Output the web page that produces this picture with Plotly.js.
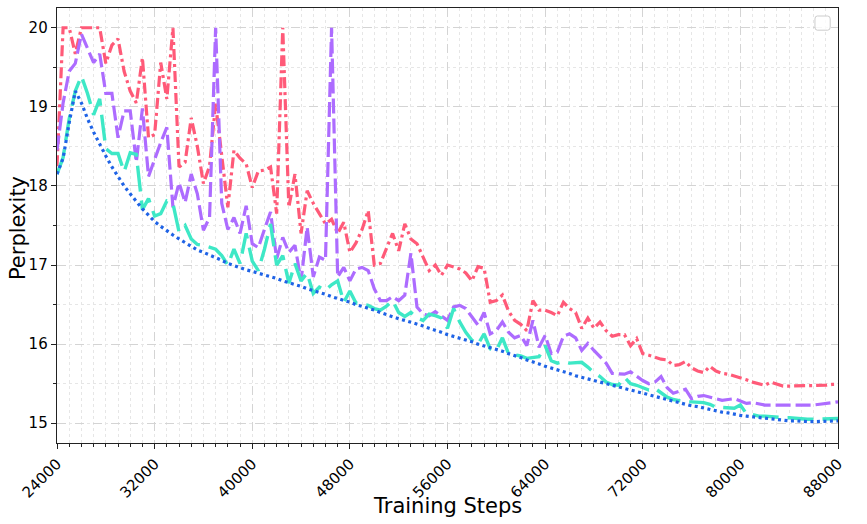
<!DOCTYPE html>
<html>
<head>
<meta charset="utf-8">
<script src="https://cdn.plot.ly/plotly-3.0.1.min.js"></script>
<style>
  html, body { margin: 0; padding: 0; background: #fff; }
  #chart { width: 867px; height: 524px; }
</style>
</head>
<body>
<div id="chart"></div>
<script>
// training steps, sampled every 500 from 24000 to 88000
var steps = [];
for (var s = 24000; s <= 88000; s += 500) steps.push(s);

var redVals = [
  18.25, 20.0, 20.0, 19.67, 20.0, 20.0, 20.0, 20.0, 19.55, 19.78,
  19.86, 19.45, 19.2, 19.05, 19.62, 18.61, 18.65, 19.56, 19.1, 20.0,
  18.24, 18.3, 18.86, 18.5, 18.03, 18.25, 19.04, 18.4, 17.73, 18.45,
  18.35, 18.28, 17.98, 18.19, 18.2, 18.24, 17.65, 20.0, 17.73, 18.15,
  17.4, 17.94, 17.78, 17.65, 17.52, 17.58, 17.4, 17.54, 17.16, 17.28,
  17.45, 17.69, 17.0, 17.02, 17.2, 17.4, 17.18, 17.52, 17.33, 17.27,
  17.1, 16.93, 17.0, 16.87, 17.0, 16.97, 16.95, 16.9, 16.8, 16.98,
  16.96, 16.53, 16.55, 16.62, 16.42, 16.3, 16.25, 16.17, 16.55, 16.43,
  16.43, 16.4, 16.36, 16.53, 16.45, 16.4, 16.2, 16.33, 16.2, 16.28,
  16.17, 16.1, 16.12, 16.12, 15.98, 16.07, 15.88, 15.86, 15.83, 15.81,
  15.8, 15.73, 15.74, 15.78, 15.7, 15.66, 15.64, 15.72, 15.66, 15.63,
  15.62, 15.6, 15.57, 15.55, 15.52, 15.5, 15.48, 15.52, 15.5, 15.47,
  15.47, 15.47, 15.47, 15.47, 15.48, 15.48, 15.48, 15.49, 15.49
];

var purpleVals = [
  18.45, 19.05, 19.45, 19.55, 19.92, 19.75, 19.56, 19.67, 19.17, 19.17,
  18.61, 18.95, 18.95, 18.3, 18.98, 18.12, 18.35, 18.55, 18.74, 17.73,
  18.04, 17.79, 18.15, 17.9, 17.44, 17.6, 20.0, 17.78, 17.45, 17.6,
  17.4, 17.75, 17.27, 17.22, 17.45, 17.67, 17.08, 17.35, 17.16, 17.25,
  16.8, 17.48, 16.85, 17.1, 17.06, 20.0, 16.85, 16.97, 16.8, 16.95,
  16.97, 16.93, 16.7, 16.55, 16.55, 16.6, 16.55, 16.62, 17.15, 16.47,
  16.38, 16.36, 16.41, 16.35, 16.3, 16.47, 16.49, 16.45, 16.34, 16.24,
  16.4, 16.13, 16.17, 16.28, 16.15, 16.08, 16.11, 15.98, 16.3, 15.96,
  16.11, 15.88, 15.9, 16.1, 16.13, 16.08, 15.92, 16.01, 15.92, 15.84,
  15.76, 15.63, 15.62, 15.62, 15.65, 15.59, 15.54, 15.5, 15.52, 15.59,
  15.45, 15.38, 15.41, 15.43, 15.31, 15.34, 15.35, 15.33, 15.32, 15.29,
  15.3, 15.31, 15.28, 15.25, 15.26, 15.24, 15.23, 15.23, 15.23, 15.23,
  15.22, 15.22, 15.22, 15.23, 15.23, 15.24, 15.25, 15.27, 15.27
];

var tealVals = [
  18.15, 18.36, 18.85, 19.2, 19.39, 19.17, 18.9, 19.1, 18.47, 18.41,
  18.41, 18.18, 18.42, 18.4, 17.7, 17.84, 17.62, 17.65, 17.81, 17.78,
  17.42, 17.5, 17.33, 17.26, 17.25, 17.22, 17.2, 17.12, 17.0, 17.2,
  17.02, 17.4, 17.05, 16.93, 17.2, 17.52, 17.0, 17.12, 16.77, 17.02,
  16.8, 16.9, 16.64, 16.72, 16.68, 16.75, 16.8, 16.53, 16.67, 16.52,
  16.5, 16.49, 16.45, 16.43, 16.48, 16.55, 16.4, 16.35, 16.4, 16.33,
  16.3, 16.38, 16.36, 16.33, 16.2, 16.45, 16.28, 16.15, 16.05, 16.0,
  16.13, 15.94, 15.92, 16.08, 15.88, 15.87, 15.85, 15.82, 15.83, 15.84,
  15.98, 15.79, 15.76, 15.78, 15.76, 15.77, 15.77, 15.71, 15.64, 15.59,
  15.52, 15.49, 15.48, 15.58, 15.5, 15.48, 15.45, 15.42, 15.44, 15.38,
  15.33, 15.3, 15.28, 15.27, 15.27, 15.27, 15.26, 15.24, 15.2, 15.2,
  15.19, 15.19, 15.23, 15.12, 15.11, 15.09, 15.09, 15.08, 15.08, 15.07,
  15.07, 15.06, 15.06, 15.05, 15.05, 15.05, 15.05, 15.06, 15.06
];

var blueVals = [
  18.15, 18.35, 18.8, 19.2, 19.05, 18.85, 18.68, 18.52, 18.38, 18.24,
  18.12, 18.0, 17.9, 17.8, 17.71, 17.63, 17.55, 17.49, 17.43, 17.38,
  17.33, 17.28, 17.23, 17.19, 17.16, 17.13, 17.1, 17.06, 17.02, 16.99,
  16.96, 16.94, 16.92, 16.9, 16.88, 16.86, 16.83, 16.8, 16.78, 16.75,
  16.73, 16.7, 16.68, 16.65, 16.63, 16.6, 16.58, 16.56, 16.53, 16.5,
  16.48, 16.45, 16.43, 16.4, 16.37, 16.34, 16.32, 16.3, 16.28, 16.26,
  16.23, 16.2, 16.18, 16.15, 16.12, 16.1, 16.07, 16.05, 16.03, 16.0,
  15.98, 15.96, 15.94, 15.91, 15.88, 15.86, 15.83, 15.8, 15.78, 15.75,
  15.72, 15.7, 15.67, 15.65, 15.63, 15.6, 15.58, 15.55, 15.53, 15.51,
  15.49, 15.47, 15.45, 15.43, 15.41, 15.39, 15.37, 15.35, 15.33, 15.31,
  15.3, 15.28, 15.26, 15.24, 15.22, 15.21, 15.19, 15.17, 15.16, 15.14,
  15.13, 15.11, 15.1, 15.09, 15.08, 15.07, 15.06, 15.05, 15.04, 15.04,
  15.03, 15.03, 15.02, 15.02, 15.02, 15.02, 15.02, 15.02, 15.03
];

var xTicks = [24000, 32000, 40000, 48000, 56000, 64000, 72000, 80000, 88000];
var yTicks = [15, 16, 17, 18, 19, 20];

function line(y, color, dash, width) {
    return {
        x: steps, y: y, type: 'scatter', mode: 'lines',
        line: { color: color, width: width, dash: dash },
        showlegend: false
    };
}

var data = [
    line(redVals, '#ff5a78', '11px,4px,3px,4px', 3.2),
    line(purpleVals, '#ad6cff', '15px,5px', 3.2),
    line(tealVals, '#3ee8c6', '26px,9px', 3.4),
    line(blueVals, '#1f63e6', '3px,3.5px', 3.2)
];

var tickFont = { family: 'DejaVu Sans, sans-serif', size: 15, color: '#000' };

var layout = {
    width: 867, height: 524,
    margin: { l: 57, r: 29, t: 8, b: 81 },
    paper_bgcolor: '#fff', plot_bgcolor: '#fff',
    font: { family: 'DejaVu Sans, sans-serif', color: '#000' },
    xaxis: {
        range: [24000, 88000],
        tickvals: xTicks, ticktext: xTicks.map(String),
        tickangle: -45, tickfont: tickFont,
        ticks: 'outside', ticklen: 5, tickcolor: '#222',
        showline: true, mirror: true, linecolor: '#222', linewidth: 1.3,
        showgrid: true, gridcolor: '#d4d4d4', griddash: 'dash', gridwidth: 1,
        zeroline: false,
        minor: { dtick: 1000, tick0: 24000, showgrid: true, gridcolor: '#e6e6e6', griddash: 'dot', gridwidth: 1, ticks: 'outside', ticklen: 3, tickcolor: '#222' }
    },
    yaxis: {
        range: [14.75, 20.25],
        tickvals: yTicks, tickfont: tickFont,
        ticks: 'outside', ticklen: 5, tickcolor: '#222',
        showline: true, mirror: true, linecolor: '#222', linewidth: 1.3,
        showgrid: true, gridcolor: '#d4d4d4', griddash: 'dash', gridwidth: 1,
        zeroline: false,
        minor: { dtick: 0.5, tick0: 15, showgrid: true, gridcolor: '#e6e6e6', griddash: 'dot', gridwidth: 1, ticks: 'outside', ticklen: 3, tickcolor: '#222' }
    },
    annotations: [
        { text: 'Training Steps', xref: 'paper', yref: 'paper', x: 0.5, y: -0.145,
          showarrow: false, font: { size: 21 }, xanchor: 'center', yanchor: 'middle' },
        { text: 'Perplexity', xref: 'paper', yref: 'paper', x: -0.05, y: 0.494,
          showarrow: false, font: { size: 21 }, textangle: -90, xanchor: 'center', yanchor: 'middle' }
    ],
    shapes: [{
        // empty legend frame, top right
        type: 'path', xref: 'paper', yref: 'paper',
        path: 'M 0.9735 0.9816 L 0.9868 0.9816 Q 0.99 0.9816 0.99 0.975 L 0.99 0.956 Q 0.99 0.949 0.9868 0.949 L 0.9735 0.949 Q 0.9705 0.949 0.9705 0.956 L 0.9705 0.975 Q 0.9705 0.9816 0.9735 0.9816 Z',
        line: { color: '#cccccc', width: 1 }, fillcolor: 'rgba(255,255,255,0.8)'
    }]
};

Plotly.newPlot('chart', data, layout, { staticPlot: true });
</script>
</body>
</html>
